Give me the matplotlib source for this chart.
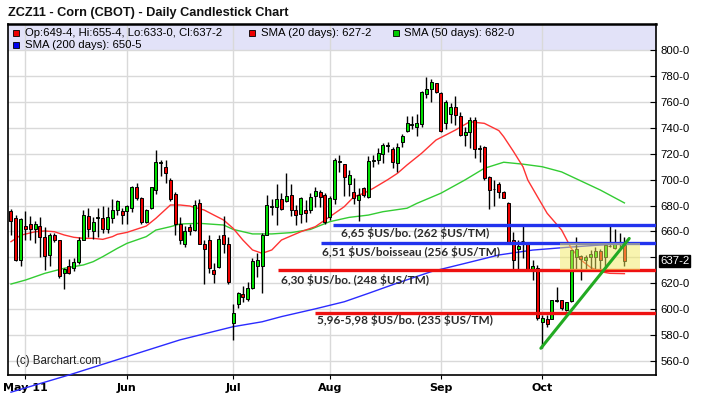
import numpy as np
import pandas as pd
import matplotlib
matplotlib.use("Agg")
import matplotlib.pyplot as plt
from matplotlib.patches import Rectangle
import matplotlib.transforms as mtransforms

# ---------------- data ----------------
holidays = ["2011-05-30", "2011-07-04", "2011-09-05"]
dates = pd.bdate_range("2011-04-27", "2011-10-26")
dates = dates[~dates.isin(pd.to_datetime(holidays))]

opens = [676, 670, 638, 664, 666, 662, 664, 656, 642, 657, 653, 627.5, 633, 632, 636, 653, 672, 660.5, 670.5, 670.5,
         662, 670, 676.5, 675.5, 675.5, 678, 694.5, 685.5, 667.5, 678, 692, 713, 709.5, 700, 689, 666, 650, 663, 661, 682,
         650, 653, 630, 632.5, 657, 650.5, 589, 604, 611.5, 607.5, 616, 633, 633, 657.5, 679, 679, 685, 683.5, 688, 676.5,
         673.5, 676.5, 676.5, 687, 690.5, 688, 671, 685, 714, 712, 696.5, 690.5, 684, 693.5, 686.5, 714.5, 715, 720,
         726, 724, 713, 729.5, 738, 742.5, 741, 743, 766, 770.5, 774.5, 767, 743.5, 751, 756, 749, 734.5, 737, 746, 724,
         725.5, 702, 692.5, 697, 690.5, 682, 653, 646, 652.5, 650, 631, 632, 590, 592.5, 592.5, 606, 606.5, 599, 606,
         640.5, 641, 638, 640, 640, 645, 640, 648.5, 647, 650.5, 649.5]
highs = [677, 673, 670, 676, 672, 668, 671, 663, 659, 659, 653.5, 632, 638.5, 639, 656, 676.5, 678, 671, 678, 679.5,
         679, 685, 684.5, 678, 680.5, 695, 697.5, 686.5, 677, 694.5, 723, 715, 715.5, 701, 690.5, 671, 664, 666, 684, 685,
         653, 657, 635.5, 657, 672, 656, 604, 613, 617.5, 621, 639, 643, 658.5, 688, 685, 697, 689.5, 705, 697, 680.5,
         686.5, 684.5, 689.5, 694.5, 692, 689.5, 687.5, 716.5, 719, 712.5, 707.5, 701, 693.5, 694, 718.5, 719, 724.5, 728.5,
         729.5, 725, 728.5, 735.5, 749.5, 749, 751, 769, 779.5, 778, 775, 767.5, 761.5, 759, 765, 752, 741, 748.5, 748.5, 727,
         726, 702.5, 699.5, 698.5, 691, 683, 659.5, 653, 666, 650.5, 638, 634, 595, 595, 607, 617, 607, 605.5, 645.5,
         656, 641.5, 641.5, 645.5, 648, 646, 651, 665, 661.5, 659, 655.5]
lows = [657, 637, 633, 653, 653, 651, 640, 630, 633, 652, 623.5, 615, 627, 629, 635, 653, 656, 654, 656, 659,
        658.5, 666.5, 672.5, 665.5, 666, 675, 684, 665.5, 666.5, 677, 689, 703, 697.5, 683.5, 657, 650, 648, 657, 660.5, 650,
        619.5, 628, 620, 632, 643, 619.5, 576, 600.5, 605.5, 606, 615.5, 625, 612, 657, 672.5, 665, 676.5, 683, 672, 665,
        666.5, 667.5, 674.5, 679, 679, 666, 669, 681.5, 706, 687.5, 687.5, 681.5, 668, 686.5, 686, 710, 712.5, 713,
        721.5, 709, 706, 725.5, 737, 739.5, 734, 741, 763, 760.5, 767, 737, 739.5, 743.5, 742.5, 733.5, 726, 724.5, 716.5, 714,
        700, 677, 680, 685.5, 685.5, 650.5, 630, 630, 639, 629.5, 622.5, 591, 569.5, 586, 592.5, 605.5, 599.5, 598.5, 605.5,
        630, 622.5, 630.5, 629.5, 630, 630, 630.5, 648, 646.5, 646.5, 633]
closes = [668, 638, 669.5, 661.5, 662, 665.5, 656, 641, 657.5, 653, 625.5, 631, 627.5, 636, 653, 673, 661.5, 667, 671, 661.5,
          671, 676.5, 683.5, 672.5, 679.5, 694.5, 686, 667, 676.5, 694, 714, 714, 705, 685, 666, 653, 660.5, 660.5, 680.5, 650.5,
          646, 632, 627, 654, 650.5, 620.5, 596.5, 612.5, 609, 616, 637, 638, 657.5, 680.5, 679.5, 685, 677, 687, 676.5, 672.5,
          685.5, 674.5, 686.5, 691.5, 686.5, 667.5, 685.5, 715.5, 714.5, 702, 703.5, 685.5, 688.5, 688, 714.5, 715, 720.5, 727,
          726.5, 714, 725, 734, 744, 743, 744, 767.5, 770, 775.5, 767.5, 737.5, 760, 756, 750, 734.5, 737, 746, 724, 724.5,
          701, 692, 693, 690.5, 686, 650.5, 638, 649, 652.5, 630, 633, 593, 593, 588, 606.5, 606.5, 600.5, 605, 645.5,
          646.5, 638.5, 640.5, 642.5, 644.5, 637.5, 649.5, 648.5, 651, 650.5, 637.25]

# moving averages (trading-day index, value)
sma20_idx = [0, 2, 5, 7, 9, 11, 13, 15, 17, 19, 21, 22, 24, 28, 30, 33, 35, 37, 40, 42, 44, 46, 48, 50, 52, 54, 56, 60,
             63, 66, 69, 71, 73, 75, 78, 80, 82, 85, 88, 92, 95, 96, 98, 101, 102, 104, 106, 107, 109, 111, 114, 116,
             118, 120, 122, 124, 127]
sma20_val = [652, 657, 659.7, 660.3, 659.7, 657.2, 655.4, 654.6, 654.6, 653.8, 655.9, 657.7, 659.2, 664.1, 670.1, 680.4,
             680.4, 679.6, 676.5, 672.6, 668.8, 662.3, 653.3, 645.6, 643, 645.6, 653.3, 659.7, 663.6, 671.3, 679.1, 686.8,
             689.4, 693.3, 700, 704.9, 711.4, 720.4, 730.7, 738.4, 744.9, 744.4, 743.6, 738, 733.3, 722, 710, 699.7,
             686.8, 674, 661, 646.8, 637.8, 632.1, 628.8, 627.5, 627.25]
sma50_idx = [0, 3, 7, 11, 15, 17, 19, 22, 24, 28, 30, 33, 35, 39, 44, 46, 50, 54, 58, 62, 66, 70, 74, 77, 82, 84, 89,
             94, 98, 102, 106, 110, 114, 118, 122, 127]
sma50_val = [619.2, 622.3, 627.5, 631.4, 634, 636.5, 640.4, 646.8, 650.7, 655.9, 661, 663.6, 665.7, 666.2, 664.9, 661.5,
             658, 658, 659, 661.5, 667.5, 670.8, 672.6, 675.2, 677.9, 681.6, 689.5, 699.8, 708.8, 713.5, 712, 710,
             706, 699, 692, 682]
sma200_idx = [0, 12, 24, 35, 46, 52, 56, 63, 69, 74, 80, 87, 94, 101, 108, 115, 122, 127]
sma200_val = [535.5, 548.8, 563, 576, 586.2, 590, 594, 600, 605.5, 612, 620, 628.8, 635.2, 641.7, 645.5, 647.6,
              649.4, 650.6]

month_labels = ["May 11", "Jun", "Jul", "Aug", "Sep", "Oct"]
ytick_vals = [560, 580, 600, 620, 640, 660, 680, 700, 720, 740, 760, 780, 800]

# annotation levels: (price, start index, colour, label, label index, label price)
levels = [(665, 66.7, "#2233ee", "6,65 $US/bo. (262 $US/TM)", 68.3, 658.5),
          (651, 64.2, "#2233ee", "6,51 $US/boisseau (256 $US/TM)", 64.3, 643.8),
          (630, 55.3, "#ee1111", "6,30 $US/bo. (248 $US/TM)", 55.8, 622.3),
          (597, 62.9, "#ee1111", "5,96-5,98 $US/bo. (235 $US/TM)", 63.3, 591.0)]
trend_idx = [109.7, 128.0]
trend_val = [569.5, 654.5]
zone_idx = [113.7, 130.3]
zone_val = [630, 651]

legend_ohlc = "Op:649-4, Hi:655-4, Lo:633-0, Cl:637-2"
legend_sma20 = "SMA (20 days): 627-2"
legend_sma50 = "SMA (50 days): 682-0"
legend_sma200 = "SMA (200 days): 650-5"
last_label = "637-2"


def esc(s):
    return s.replace("$", r"\$")


# ---------------- figure ----------------
W, H = 702, 398
fig = plt.figure(figsize=(W / 100, H / 100), dpi=100)
fig.patch.set_facecolor("white")
ax = fig.add_axes([8 / W, 23 / H, 648 / W, 351 / H])
ax.set_xlim(-0.62, 133.54)
ax.set_ylim(548.8, 820.5)

x = np.arange(len(dates))
o = np.array(opens); h = np.array(highs); l = np.array(lows); c = np.array(closes)

# legend band
ax.add_patch(Rectangle((0, 0.926), 1, 0.074, transform=ax.transAxes, facecolor="#e2e2f8",
                       edgecolor="none", zorder=0.3))

# grid
month_pos = []
for m in [5, 6, 7, 8, 9, 10]:
    month_pos.append(int(np.where(dates.month == m)[0][0]))
ax.set_xticks(month_pos)
ax.set_xticklabels(month_labels, fontsize=8.0, fontweight="bold", family="Liberation Sans Narrow")
ax.set_yticks(ytick_vals)
# the 640 label sits under the last-price box in the chart
ax.set_yticklabels(["" if v == 640 else f"{v}-0" for v in ytick_vals], fontsize=8.2, family="Liberation Sans")
ax.yaxis.tick_right()
ax.tick_params(axis="y", direction="in", length=4, pad=3, right=True, left=False)
ax.tick_params(axis="x", direction="out", length=3, pad=3)
ax.grid(True, color="#d9d9d9", linewidth=1, zorder=0.5)
ax.set_axisbelow(True)
for s in ax.spines.values():
    s.set_color("black")
    s.set_linewidth(1.2)
ax.spines["top"].set_linewidth(1.8)

# moving averages
ax.plot(sma200_idx, sma200_val, color="#2b2bff", lw=1.0, zorder=3, clip_on=False)
ax.plot(sma50_idx, sma50_val, color="#33cc33", lw=1.0, zorder=3)
ax.plot(sma20_idx, sma20_val, color="#ff3333", lw=1.0, zorder=3)

# candles
up = c >= o
ax.vlines(x, l, h, color="black", lw=1.0, zorder=4)
body_bottom = np.minimum(o, c)
body_h = np.abs(c - o)
cols = np.where(up, "#00dd00", "#ee0000")
ax.bar(x, body_h, bottom=body_bottom, width=0.62, color=cols, edgecolor="black", linewidth=0.7, zorder=5)

# horizontal levels and labels
x_right = ax.get_xlim()[1]
for price, start, col, text, tx, ty in levels:
    ax.hlines(price, start, x_right, color=col, lw=2.4, zorder=6)
    ax.text(tx, ty, esc(text), fontsize=8.5, fontweight="bold", color="#2a2a2a", family="Lato",
            va="center", ha="left", zorder=7)

# trend line
ax.plot(trend_idx, trend_val, color="#22aa22", lw=2.2, zorder=7, solid_capstyle="round")

# yellow zone
ax.add_patch(Rectangle((zone_idx[0], zone_val[0]), zone_idx[1] - zone_idx[0], zone_val[1] - zone_val[0],
                       facecolor="#f2ea60", alpha=0.5, edgecolor="none", zorder=6.5))

# copyright
ax.text(0.012, 0.04, "(c) Barchart.com", transform=ax.transAxes, fontsize=8.3, family="Liberation Sans",
        color="#222222", va="center", ha="left")

# last price label
trans = mtransforms.blended_transform_factory(ax.transAxes, ax.transData)
ax.text(1.006, closes[-1], last_label, transform=trans, fontsize=8.2, family="Liberation Sans", color="white",
        va="center", ha="left", bbox=dict(boxstyle="square,pad=0.1", facecolor="black", edgecolor="black"),
        zorder=10, clip_on=False)

# title
fig.text(8 / W, 1 - 13 / H, "ZCZ11 - Corn (CBOT) - Daily Candlestick Chart", fontsize=9.2, fontweight="bold",
         family="Liberation Sans", va="center", ha="left", color="#111111")

# legend
def fig_xy(px, py):
    return px / W, 1 - py / H


def square(px, py, col):
    fig.patches.append(Rectangle(fig_xy(px, py + 3.5), 6 / W, 6 / H, transform=fig.transFigure,
                                 facecolor=col, edgecolor="black", linewidth=0.6, zorder=10))


lfs = 8.2
square(13, 32, "#ee0000")
fig.text(*fig_xy(25, 32.5), legend_ohlc, fontsize=lfs, family="Liberation Sans", va="center", ha="left")
square(249, 32, "#ee0000")
fig.text(*fig_xy(261, 32.5), legend_sma20, fontsize=lfs, family="Liberation Sans", va="center", ha="left")
square(393, 32, "#00cc00")
fig.text(*fig_xy(404, 32.5), legend_sma50, fontsize=lfs, family="Liberation Sans", va="center", ha="left")
square(13, 44, "#0000ee")
fig.text(*fig_xy(25, 44.5), legend_sma200, fontsize=lfs, family="Liberation Sans", va="center", ha="left")

fig.savefig("out.png", dpi=100)
